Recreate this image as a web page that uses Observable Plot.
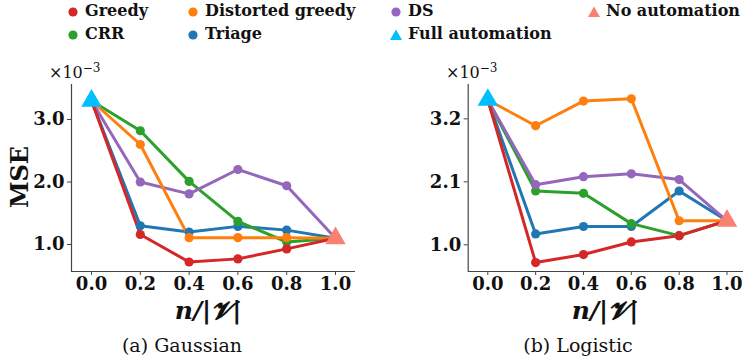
<!DOCTYPE html>
<html>
<head>
<meta charset="utf-8">
<script src="https://cdn.jsdelivr.net/npm/d3@7"></script>
<script src="https://cdn.jsdelivr.net/npm/@observablehq/plot@0.6"></script>
<style>
  html, body { margin: 0; padding: 0; background: #fff; }
  #root { position: relative; width: 743px; height: 360px; overflow: hidden; font-family: "DejaVu Serif", serif; color: #111; }
  .abs { position: absolute; }
  .leg { position: absolute; font-size: 16px; font-weight: bold; white-space: nowrap; line-height: 1; }
  .cap { position: absolute; font-size: 19px; white-space: nowrap; transform: translate(-50%, -50%); }
  .xl { position: absolute; font-size: 25px; font-weight: bold; font-style: italic; white-space: nowrap; transform: translate(-50%, -50%); }
  .sci { position: absolute; font-size: 16px; white-space: nowrap; }
  .sci sup { font-size: 12px; }
</style>
</head>
<body>
<div id="root"></div>
<script>
// ---------- data ----------
const xs = [0, 0.2, 0.4, 0.6, 0.8, 1.0];
const xTickLabels = ["0.0", "0.2", "0.4", "0.6", "0.8", "1.0"];
const seriesNames = ["Greedy", "Distorted greedy", "DS", "CRR", "Triage"];
const seriesColors = ["#d62728", "#ff7f0e", "#9467bd", "#2ca02c", "#1f77b4"];
const drawOrder = ["Triage", "CRR", "DS", "Distorted greedy", "Greedy"];

// (a) Gaussian, MSE x 1e-3
const gaussGreedy    = [3.30, 1.16, 0.72, 0.77, 0.93, 1.10];
const gaussDistorted = [3.30, 2.60, 1.11, 1.11, 1.11, 1.10];
const gaussDS        = [3.30, 2.00, 1.81, 2.20, 1.94, 1.10];
const gaussCRR       = [3.30, 2.82, 2.01, 1.37, 1.04, 1.10];
const gaussTriage    = [3.30, 1.30, 1.20, 1.29, 1.23, 1.10];
const gaussYTicks = [1.0, 2.0, 3.0];
const gaussYTickLabels = ["1.0", "2.0", "3.0"];

// (b) Logistic, MSE x 1e-3
const logGreedy    = [3.53, 0.69, 0.83, 1.05, 1.16, 1.42];
const logDistorted = [3.53, 3.08, 3.51, 3.55, 1.42, 1.42];
const logDS        = [3.53, 2.05, 2.19, 2.24, 2.14, 1.42];
const logCRR       = [3.53, 1.94, 1.90, 1.37, 1.16, 1.42];
const logTriage    = [3.53, 1.19, 1.32, 1.32, 1.94, 1.42];
const logYTicks = [1.0, 2.1, 3.2];
const logYTickLabels = ["1.0", "2.1", "3.2"];

const fullColor = "#00bfff";
const noColor = "#fa8072";

// ---------- helpers ----------
const root = document.getElementById("root");
function el(tag, cls, html, style) {
  const e = document.createElement(tag);
  if (cls) e.className = cls;
  if (html != null) e.innerHTML = html;
  Object.assign(e.style, style || {});
  root.appendChild(e);
  return e;
}
const colorOf = Object.fromEntries(seriesNames.map((s, i) => [s, seriesColors[i]]));

function makePanel(arrays, yDomain, yTicks, yTickLabels, opts) {
  const rows = [];
  seriesNames.forEach((s, i) => {
    arrays[i].forEach((v, j) => rows.push({series: s, x: xs[j], y: v, order: drawOrder.indexOf(s)}));
  });
  rows.sort((a, b) => a.order - b.order);
  const interior = rows.filter(d => d.x > 0 && d.x < 1);
  const first = [{x: xs[0], y: arrays[0][0]}];
  const last = [{x: xs[xs.length - 1], y: arrays[0][xs.length - 1]}];
  const axisColor = "#444";
  return Plot.plot({
    width: opts.width, height: 245,
    marginLeft: opts.ml, marginRight: opts.mr, marginTop: 24, marginBottom: 34,
    style: {fontFamily: "DejaVu Serif", fontSize: "18px", fontWeight: "bold", background: "transparent", overflow: "visible", color: "#111"},
    x: {domain: opts.xDomain},
    y: {domain: yDomain},
    marks: [
      Plot.ruleX([opts.xDomain[0]], {stroke: axisColor, strokeWidth: 1.2}),
      Plot.ruleY([yDomain[0]], {stroke: axisColor, strokeWidth: 1.2}),
      Plot.axisX({ticks: xs, tickFormat: d => xTickLabels[xs.indexOf(d)], tickSize: 4, tickPadding: 2, stroke: axisColor, label: null}),
      Plot.axisY({ticks: yTicks, tickFormat: d => yTickLabels[yTicks.indexOf(d)], tickSize: 4, tickPadding: 3, stroke: axisColor, label: null}),
      ...drawOrder.map(s => Plot.line(rows.filter(d => d.series === s), {x: "x", y: "y", stroke: colorOf[s], strokeWidth: 3})),
      ...drawOrder.map(s => Plot.dot(interior.filter(d => d.series === s), {x: "x", y: "y", fill: colorOf[s], r: 4.6})),
      Plot.dot(first, {x: "x", y: "y", symbol: "triangle", fill: fullColor, r: 7.6}),
      Plot.dot(last, {x: "x", y: "y", symbol: "triangle", fill: noColor, r: 7.6})
    ]
  });
}

// ---------- panels ----------
const left = makePanel(
  [gaussGreedy, gaussDistorted, gaussDS, gaussCRR, gaussTriage],
  [0.568, 3.56], gaussYTicks, gaussYTickLabels,
  {width: 370, ml: 71, mr: 15, xDomain: [-0.082, 1.082]}
);
left.style.position = "absolute"; left.style.left = "0px"; left.style.top = "60px";
root.appendChild(left);

const right = makePanel(
  [logGreedy, logDistorted, logDS, logCRR, logTriage],
  [0.534, 3.80], logYTicks, logYTickLabels,
  {width: 385, ml: 97.7, mr: 8.9, xDomain: [-0.082, 1.082]}
);
right.style.position = "absolute"; right.style.left = "370px"; right.style.top = "60px";
root.appendChild(right);

// ---------- texts ----------
el("div", "sci", "×10<sup>−3</sup>", {left: "49px", top: "61px"});
el("div", "sci", "×10<sup>−3</sup>", {left: "446px", top: "61px"});
el("div", "abs", "MSE", {left: "19px", top: "177px", fontSize: "24px", fontWeight: "bold", transform: "translate(-50%, -50%) rotate(-90deg)", whiteSpace: "nowrap"});
el("div", "xl", "n/|𝓥|", {left: "208px", top: "311px"});
el("div", "xl", "n/|𝓥|", {left: "605px", top: "311px"});
el("div", "cap", "(a) Gaussian", {left: "182px", top: "345px"});
el("div", "cap", "(b) Logistic", {left: "578px", top: "345px"});

// ---------- legend ----------
const legendItems = [
  {label: seriesNames[0], color: seriesColors[0], shape: "dot", x: 73, y: 12},
  {label: seriesNames[1], color: seriesColors[1], shape: "dot", x: 193, y: 12},
  {label: seriesNames[2], color: seriesColors[2], shape: "dot", x: 396, y: 12},
  {label: "No automation", color: noColor, shape: "tri", x: 594, y: 12},
  {label: seriesNames[3], color: seriesColors[3], shape: "dot", x: 73, y: 35},
  {label: seriesNames[4], color: seriesColors[4], shape: "dot", x: 193, y: 35},
  {label: "Full automation", color: fullColor, shape: "tri", x: 396, y: 35}
];
legendItems.forEach(it => {
  const svgNS = "http://www.w3.org/2000/svg";
  const s = document.createElementNS(svgNS, "svg");
  s.setAttribute("width", 16); s.setAttribute("height", 16);
  s.style.position = "absolute"; s.style.left = (it.x - 8) + "px"; s.style.top = (it.y - 8) + "px";
  if (it.shape === "dot") {
    const c = document.createElementNS(svgNS, "circle");
    c.setAttribute("cx", 8); c.setAttribute("cy", 8); c.setAttribute("r", 4.6); c.setAttribute("fill", it.color);
    s.appendChild(c);
  } else {
    const p = document.createElementNS(svgNS, "path");
    p.setAttribute("d", "M8,2.5 L14,13 L2,13 Z"); p.setAttribute("fill", it.color);
    s.appendChild(p);
  }
  root.appendChild(s);
  el("div", "leg", it.label, {left: (it.x + 12) + "px", top: (it.y - 9) + "px"});
});
</script>
</body>
</html>
